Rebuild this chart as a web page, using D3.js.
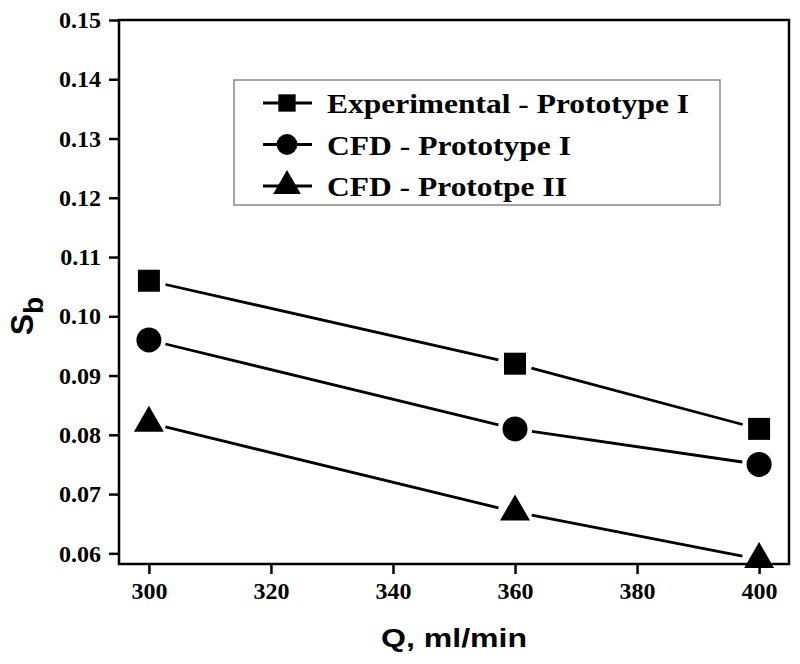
<!DOCTYPE html>
<html>
<head>
<meta charset="utf-8">
<script src="https://cdn.jsdelivr.net/npm/d3@7"></script>
<style>
  html, body { margin: 0; padding: 0; background: #fff; }
  svg { display: block; }
</style>
</head>
<body>
<svg id="chart" width="800" height="664"></svg>
<script>
// ---- data ----
const flows = [300, 360, 400];
const expProto1 = [0.106, 0.092, 0.081];
const cfdProto1 = [0.096, 0.081, 0.075];
const cfdProto2 = [0.082, 0.067, 0.059];
const seriesNames = ["Experimental - Prototype I", "CFD - Prototype I", "CFD - Prototpe II"];
const xTicks = [300, 320, 340, 360, 380, 400];
const yTicks = [0.06, 0.07, 0.08, 0.09, 0.10, 0.11, 0.12, 0.13, 0.14, 0.15];

(function () {
const series = [
  { name: seriesNames[0], values: expProto1, symbol: d3.symbolSquare, size: 484, legSize: 300 },
  { name: seriesNames[1], values: cfdProto1, symbol: d3.symbolCircle, size: 490, legSize: 340 },
  { name: seriesNames[2], values: cfdProto2, symbol: d3.symbolTriangle, size: 390, legSize: 330 }
];

const svg = d3.select("#chart");
const pL = 119, pR = 789, pT = 20, pB = 564;

const x = d3.scaleLinear().domain([295.1, 404.9]).range([pL, pR]);
const y = d3.scaleLinear().domain([0.0582, 0.15]).range([pB, pT]);

const serif = "Liberation Serif, Times New Roman, Times, serif";
const sans = "Liberation Sans, Arial, Helvetica, sans-serif";

const yAxis = svg.append("g").attr("transform", `translate(${pL},0)`)
  .call(d3.axisLeft(y).tickValues(yTicks).tickSize(10).tickPadding(8).tickFormat(d3.format(".2f")));
const xAxis = svg.append("g").attr("transform", `translate(0,${pB})`)
  .call(d3.axisBottom(x).tickValues(xTicks).tickSize(10).tickPadding(8).tickFormat(d3.format("d")));
[xAxis, yAxis].forEach(a => {
  a.attr("font-family", serif).attr("font-size", 24).attr("font-weight", "bold");
  a.select(".domain").remove();
  a.selectAll(".tick line").attr("stroke", "#000").attr("stroke-width", 2.5);
  a.selectAll(".tick text").attr("fill", "#000");
});

svg.append("rect").attr("x", pL).attr("y", pT)
  .attr("width", pR - pL).attr("height", pB - pT)
  .attr("fill", "none").attr("stroke", "#000").attr("stroke-width", 2.5);

const gap = 17;
series.forEach(s => {
  const pts = flows.map((f, i) => [x(f), y(s.values[i])]);
  for (let i = 0; i < pts.length - 1; i++) {
    const [x1, y1] = pts[i], [x2, y2] = pts[i + 1];
    const dx = x2 - x1, dy = y2 - y1, len = Math.hypot(dx, dy);
    const ux = dx / len, uy = dy / len;
    svg.append("line")
      .attr("x1", x1 + ux * gap).attr("y1", y1 + uy * gap)
      .attr("x2", x2 - ux * gap).attr("y2", y2 - uy * gap)
      .attr("stroke", "#000").attr("stroke-width", 2.8);
  }
  svg.selectAll(null).data(pts).enter().append("path")
    .attr("d", d3.symbol().type(s.symbol).size(s.size)())
    .attr("transform", d => `translate(${d[0]},${d[1]})`)
    .attr("fill", "#000");
});

const legend = svg.append("g");
legend.append("rect").attr("x", 234).attr("y", 80).attr("width", 486).attr("height", 125)
  .attr("fill", "#fff").attr("stroke", "#888").attr("stroke-width", 1.5);
const textLens = [362, 244, 240];
series.forEach((s, i) => {
  const cy = 103 + i * 41.5;
  legend.append("line").attr("x1", 263).attr("x2", 312).attr("y1", cy).attr("y2", cy)
    .attr("stroke", "#000").attr("stroke-width", 2.8);
  legend.append("path").attr("d", d3.symbol().type(s.symbol).size(s.legSize)())
    .attr("transform", `translate(287,${cy})`).attr("fill", "#000");
  legend.append("text").attr("x", 327).attr("y", cy + 10)
    .attr("textLength", textLens[i]).attr("lengthAdjust", "spacingAndGlyphs")
    .attr("font-family", serif).attr("font-weight", "bold").attr("font-size", 28)
    .attr("fill", "#000").text(s.name);
});

svg.append("text").attr("x", 454).attr("y", 647).attr("text-anchor", "middle")
  .attr("textLength", 146).attr("lengthAdjust", "spacingAndGlyphs")
  .attr("font-family", sans).attr("font-weight", "bold").attr("font-size", 25)
  .attr("fill", "#000").text("Q, ml/min");

const yt = svg.append("text").attr("transform", "translate(33,316) rotate(-90)")
  .attr("text-anchor", "middle")
  .attr("font-family", sans).attr("font-weight", "bold").attr("fill", "#000");
yt.append("tspan").attr("font-size", 32).text("S");
yt.append("tspan").attr("font-size", 28).attr("dy", 10).text("b");
})();
</script>
</body>
</html>
